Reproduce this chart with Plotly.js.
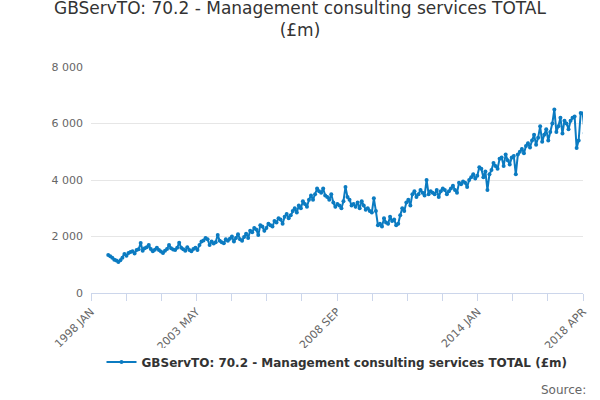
<!DOCTYPE html>
<html>
<head>
<meta charset="utf-8">
<script src="https://cdn.plot.ly/plotly-3.0.1.min.js"></script>
<style>body{margin:0}#chart{width:600px;height:400px}</style>
</head>
<body>
<div id="chart"></div>
<script>
// monthly turnover, £m
var values = [
  1345,1300,1250,1180,1150,1100,1160,1250,1380,1320,1420,1450,
  1480,1400,1520,1550,1770,1500,1580,1620,1700,1560,1480,1530,
  1600,1520,1470,1415,1500,1560,1700,1580,1540,1520,1600,1780,
  1600,1550,1500,1620,1520,1480,1560,1600,1520,1700,1820,1860,
  1950,1900,1700,1820,1750,1800,2050,1850,1800,1760,1900,1850,
  1920,2000,1820,1950,2080,1900,1850,1980,2100,1950,2200,2150,
  2300,2250,2050,2400,2350,2200,2300,2450,2400,2350,2550,2500,
  2650,2600,2450,2700,2800,2650,2750,2900,3000,2850,3100,3000,
  3250,3150,3050,3300,3450,3300,3500,3700,3600,3550,3700,3450,
  3400,3300,3500,3200,3050,3150,3100,3000,3250,3750,3400,3300,
  3100,3150,3050,3200,3000,3250,3100,2950,3000,2900,2850,3350,
  2900,2400,2450,2350,2650,2500,2450,2700,2550,2600,2400,2450,
  2750,3000,2900,3200,3300,3100,3500,3600,3400,3500,3650,3550,
  3450,4000,3500,3600,3550,3500,3650,3400,3600,3700,3650,3500,
  3600,3700,3800,3650,3550,3900,3850,3950,3900,3750,4000,4100,
  4200,4050,4150,4450,4400,4100,4300,3650,4200,4350,4600,4500,
  4400,4750,4800,4500,4900,4700,4550,4800,4850,4200,4900,5000,
  5100,4950,5200,5300,5150,5400,5600,5250,5500,5900,5350,5600,
  5800,5400,5700,6000,6500,5700,5900,6200,5650,6100,6000,5800,
  6100,6200,6250,5130,5400,6370,6350,5660
];
var tickLabels = ['1998 JAN','','','2003 MAY','','','','2008 SEP','','','','2014 JAN','','','2018 APR'];
var seriesName = 'GBServTO: 70.2 - Management consulting services TOTAL (£m)';

var idx = values.map(function(v, i){ return i; });
// axis runs from tick 0 to tick 14; data starts half a tick in
var n = values.length;
var first = 0.49, last = 14.05;
var step = (n - 1) / (last - first);
var x0 = -first * step;
var tickvals = tickLabels.map(function(t, k){ return x0 + k * step; });

var trace = {
  x: idx, y: values, type: 'scatter', mode: 'lines+markers',
  name: seriesName,
  line: {color: '#0b7bc1', width: 2},
  marker: {color: '#0b7bc1', size: 4}
};

var layout = {
  width: 600, height: 400,
  margin: {l: 91, r: 17, t: 67, b: 107},
  separators: '. ',
  paper_bgcolor: '#fff', plot_bgcolor: '#fff',
  font: {family: 'DejaVu Sans, sans-serif', color: '#333'},
  title: {text: 'GBServTO: 70.2 - Management consulting services TOTAL<br>(£m)',
          font: {size: 17, color: '#333'}, x: 0.5, xanchor: 'center',
          yref: 'container', y: 0.965, yanchor: 'top'},
  xaxis: {range: [x0, x0 + 14 * step], tickmode: 'array', tickvals: tickvals, ticktext: tickLabels,
          tickangle: -45, ticks: 'outside', ticklen: 7, tickcolor: '#ccd6eb', automargin: false,
          showline: true, linecolor: '#ccd6eb', showgrid: false, zeroline: false,
          tickfont: {size: 11, color: '#666'}},
  yaxis: {range: [0, 8000], dtick: 2000, tickformat: ',d', gridcolor: '#e6e6e6', automargin: false,
          zeroline: false, tickfont: {size: 11, color: '#666'}, ticksuffix: '  '},
  showlegend: true,
  legend: {orientation: 'h', x: 0.5, xanchor: 'center', yref: 'container', y: 0.095, yanchor: 'middle',
           font: {size: 12, color: '#333', weight: 'bold'}},
  annotations: [{text: 'Source:', xref: 'paper', yref: 'paper', x: 1.01, y: -0.39,
                 xanchor: 'right', yanchor: 'top', showarrow: false,
                 font: {size: 12, color: '#666'}}]
};

Plotly.newPlot('chart', [trace], layout, {displayModeBar: false});
</script>
</body>
</html>
